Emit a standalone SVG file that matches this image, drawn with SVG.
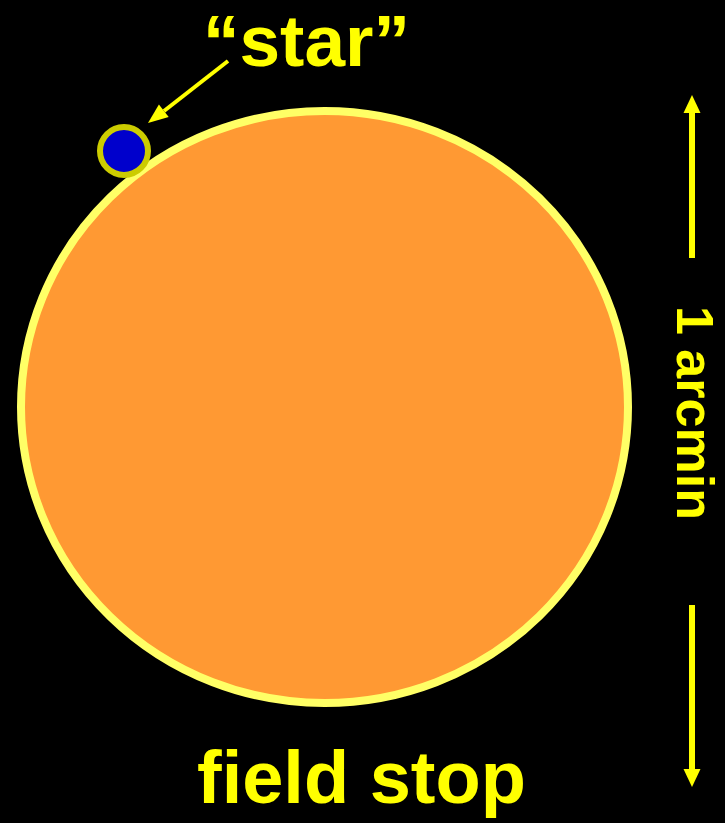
<svg xmlns="http://www.w3.org/2000/svg" width="725" height="823" viewBox="0 0 725 823">
<defs>
<style>
.t{font-family:"Liberation Sans",Arial,sans-serif;font-weight:bold;fill:#FFFF00}
.ln{stroke:#FFFF00;fill:none}
.hd{fill:#FFFF00}
</style>
</defs>
<rect width="725" height="823" fill="#000"/>
<g id="fieldstop">
<ellipse cx="324.5" cy="407" rx="303.5" ry="296" fill="#FF9933" stroke="#FFFF66" stroke-width="8"/>
</g>
<g id="star">
<circle cx="124" cy="151" r="24" fill="#0000CC" stroke="#CCCC00" stroke-width="6"/>
</g>
<g id="connectors">
<line class="ln" x1="228" y1="61" x2="164" y2="111" stroke-width="4"/>
<polygon class="hd" points="148,123 168.7,117 158.9,104.4"/>
<line class="ln" x1="692" y1="258" x2="692" y2="110" stroke-width="6"/>
<polygon class="hd" points="692,95 700.5,113 683.5,113"/>
<line class="ln" x1="692" y1="605" x2="692" y2="772" stroke-width="6"/>
<polygon class="hd" points="692,787 700.5,769 683.5,769"/>
</g>
<g id="labels">
<text class="t" x="203" y="66" font-size="73">“star”</text>
<text class="t" x="197" y="803" font-size="74">field stop</text>
<text class="t" font-size="52" transform="translate(677,306) rotate(90)">1 arcmin</text>
</g>
</svg>
